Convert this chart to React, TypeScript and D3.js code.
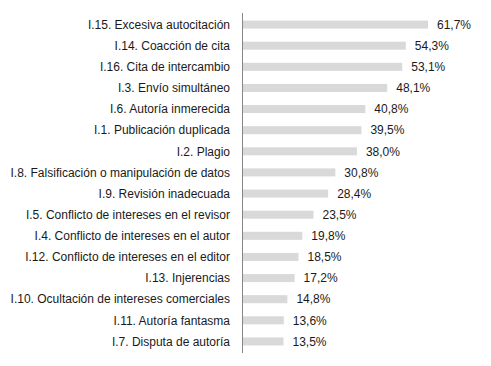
import { useEffect, useRef } from 'react';
import * as d3 from 'd3';

const categories = [
  'I.15. Excesiva autocitación',
  'I.14. Coacción de cita',
  'I.16. Cita de intercambio',
  'I.3. Envío simultáneo',
  'I.6. Autoría inmerecida',
  'I.1. Publicación duplicada',
  'I.2. Plagio',
  'I.8. Falsificación o manipulación de datos',
  'I.9. Revisión inadecuada',
  'I.5. Conflicto de intereses en el revisor',
  'I.4. Conflicto de intereses en el autor',
  'I.12. Conflicto de intereses en el editor',
  'I.13. Injerencias',
  'I.10. Ocultación de intereses comerciales',
  'I.11. Autoría fantasma',
  'I.7. Disputa de autoría',
];

const values = [61.7, 54.3, 53.1, 48.1, 40.8, 39.5, 38.0, 30.8, 28.4, 23.5, 19.8, 18.5, 17.2, 14.8, 13.6, 13.5];

const App = () => {
  const svgRef = useRef<SVGSVGElement>(null);

  useEffect(() => {
    const width = 491;
    const height = 366;
    const axisX = 243;

    const svg = d3.select(svgRef.current)
      .attr('width', width)
      .attr('height', height);
    svg.selectAll('*').remove();

    const x = d3.scaleLinear()
      .domain([0, 61.7])
      .range([axisX, 428]);

    const y = d3.scaleBand()
      .domain(categories)
      .range([14, 352])
      .paddingInner(0.62)
      .paddingOuter(0.31);

    const data = categories.map((c, i) => ({ cat: c, val: values[i] }));

    // bars
    svg.selectAll('.bar')
      .data(data)
      .enter()
      .append('rect')
      .attr('class', 'bar')
      .attr('x', axisX)
      .attr('y', d => y(d.cat)!)
      .attr('width', d => x(d.val) - axisX)
      .attr('height', y.bandwidth())
      .style('fill', '#d9d9d9');

    // category labels
    svg.selectAll('.cat-label')
      .data(data)
      .enter()
      .append('text')
      .attr('class', 'cat-label')
      .attr('x', 230)
      .attr('y', d => y(d.cat)! + y.bandwidth() / 2)
      .attr('dy', '0.35em')
      .attr('text-anchor', 'end')
      .style('font-family', '"Liberation Sans", Arial, sans-serif')
      .style('font-size', '12px')
      .style('fill', '#1a1a1a')
      .text(d => d.cat);

    // value labels
    svg.selectAll('.val-label')
      .data(data)
      .enter()
      .append('text')
      .attr('class', 'val-label')
      .attr('x', d => x(d.val) + 9)
      .attr('y', d => y(d.cat)! + y.bandwidth() / 2)
      .attr('dy', '0.35em')
      .style('font-family', '"Liberation Sans", Arial, sans-serif')
      .style('font-size', '12px')
      .style('fill', '#1a1a1a')
      .text(d => d.val.toFixed(1).replace('.', ',') + '%');

    // axis line
    svg.append('line')
      .attr('x1', axisX - 0.5)
      .attr('x2', axisX - 0.5)
      .attr('y1', 13)
      .attr('y2', 353)
      .style('stroke', '#868686')
      .style('stroke-width', 1);
  }, []);

  return <svg ref={svgRef} style={{ position: 'absolute', left: 0, top: 0 }} />;
};

export default App;
